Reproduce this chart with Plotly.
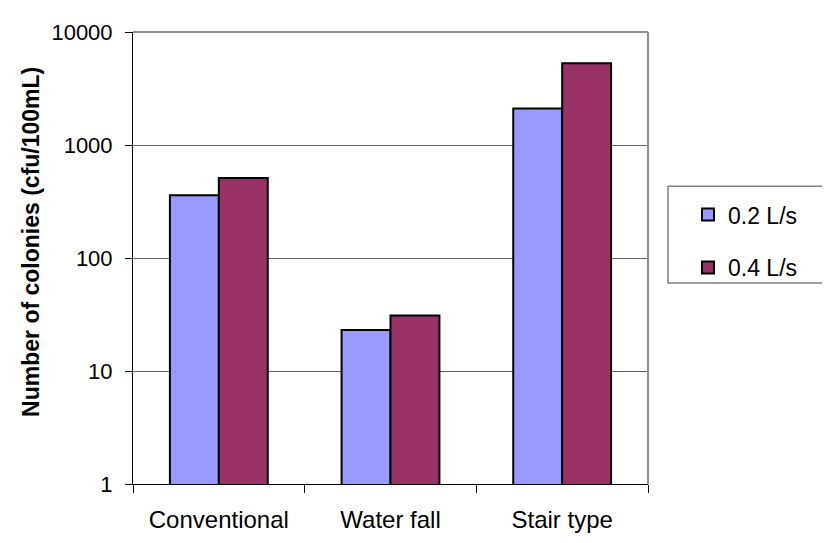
import plotly.graph_objects as go

categories = ["Conventional", "Water fall", "Stair type"]
series_names = ["0.2 L/s", "0.4 L/s"]
flow_02 = [360, 23, 2100]
flow_04 = [510, 31, 5300]
y_tick_values = [1, 10, 100, 1000, 10000]
y_tick_labels = ["1", "10", "100", "1000", "10000"]
y_title = "Number of colonies (cfu/100mL)"

colors = ["#9999FF", "#993366"]
FONT = "Arial, Liberation Sans, sans-serif"
FS = 23

# page body margin of the html (8px) is compensated by shifting the layout
OFF = 8
L, R, T, B = 133 - OFF, 648 - OFF, 21 - OFF, 484 - OFF
PW, PH = R - L, B - T


def px(xpix):
    return (xpix - OFF - L) / PW


def py(ypix):
    return (B - (ypix - OFF)) / PH


fig = go.Figure()
for i, (name, vals) in enumerate(zip(series_names, [flow_02, flow_04])):
    fig.add_trace(go.Bar(
        x=categories, y=vals, name=name,
        marker=dict(color=colors[i], line=dict(color="black", width=2)),
        legendgroup=name,
    ))

fig.update_layout(
    width=830, height=543,
    margin=dict(l=L, r=830 - R, t=T, b=543 - B),
    paper_bgcolor="white", plot_bgcolor="white",
    barmode="group", bargap=0.43, bargroupgap=0,
    font=dict(family=FONT, size=FS, color="black"),
    showlegend=True,
    legend=dict(
        x=px(688), y=py(186), xanchor="left", yanchor="top",
        borderwidth=0, bgcolor="rgba(0,0,0,0)",
        font=dict(family=FONT, size=FS, color="black"),
        tracegroupgap=20, traceorder="grouped",
    ),
    xaxis=dict(
        showline=True, linecolor="black", linewidth=1,
        ticks="outside", ticklen=8, tickcolor="black",
        tickson="boundaries", ticklabelstandoff=14,
        tickfont=dict(family=FONT, size=24, color="black"),
        showgrid=False,
    ),
    yaxis=dict(
        type="log", range=[0, 4],
        tickvals=y_tick_values, ticktext=y_tick_labels,
        showline=True, linecolor="black", linewidth=1,
        ticks="outside", ticklen=7, tickcolor="black",
        ticklabelstandoff=8,
        tickfont=dict(family=FONT, size=22, color="black"),
        showgrid=True, gridcolor="#606060", gridwidth=1,
        zeroline=False,
    ),
)

# y-axis title
fig.add_annotation(
    text="<b>" + y_title + "</b>", textangle=-90,
    xref="paper", yref="paper", x=px(31), y=py(236),
    xanchor="center", yanchor="middle", showarrow=False,
    font=dict(family=FONT, size=FS, color="black"),
)

# gray plot-area frame on top and right
fig.add_shape(type="line", xref="paper", yref="paper", x0=0, x1=1, y0=1, y1=1,
              line=dict(color="#909090", width=2))
fig.add_shape(type="line", xref="paper", yref="paper", x0=1, x1=1, y0=0, y1=1,
              line=dict(color="#909090", width=2))
# legend frame (runs off the right edge as in the reference)
fig.add_shape(type="rect", xref="paper", yref="paper",
              x0=px(668), x1=px(845),
              y0=py(278), y1=py(179),
              line=dict(color="#808080", width=1.5), fillcolor="rgba(0,0,0,0)")

fig.write_html("out.html")
